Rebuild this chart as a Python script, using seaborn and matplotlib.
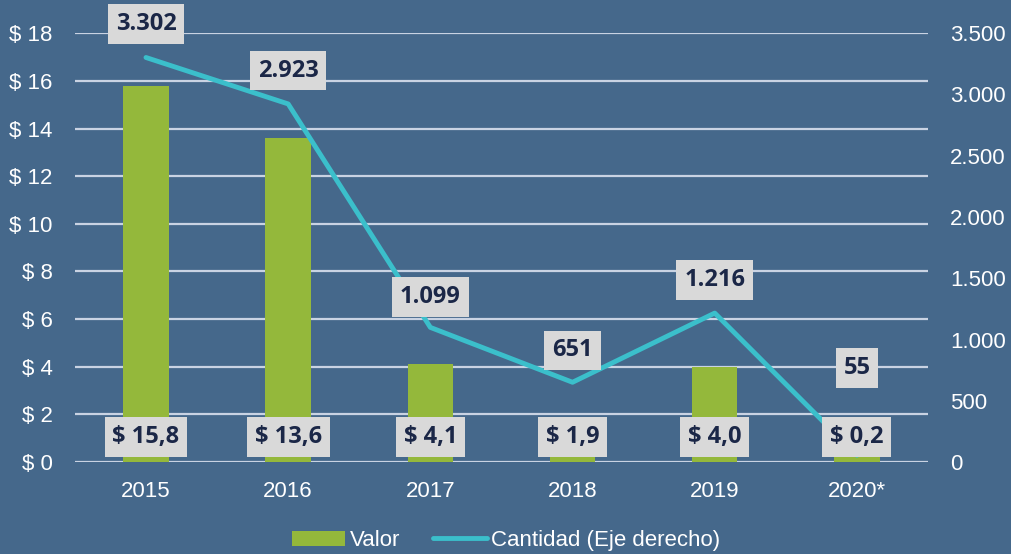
import matplotlib
matplotlib.use("Agg")
import matplotlib.pyplot as plt
import seaborn as sns
import pandas as pd
from matplotlib.patches import Patch
from matplotlib.lines import Line2D

years = ["2015", "2016", "2017", "2018", "2019", "2020*"]
valor = [15.8, 13.6, 4.1, 1.9, 4.0, 0.2]
cantidad = [3302, 2923, 1099, 651, 1216, 55]
valor_labels = ["$ 15,8", "$ 13,6", "$ 4,1", "$ 1,9", "$ 4,0", "$ 0,2"]
cantidad_labels = ["3.302", "2.923", "1.099", "651", "1.216", "55"]
left_ticks = [0, 2, 4, 6, 8, 10, 12, 14, 16, 18]
left_ticklabels = ["$ 0", "$ 2", "$ 4", "$ 6", "$ 8", "$ 10", "$ 12", "$ 14", "$ 16", "$ 18"]
right_ticks = [0, 500, 1000, 1500, 2000, 2500, 3000, 3500]
right_ticklabels = ["0", "500", "1.000", "1.500", "2.000", "2.500", "3.000", "3.500"]

BG = "#45688B"
GREEN = "#94B83B"
TEAL = "#3BBFCB"
BOX = "#D9D9D9"
NAVY = "#1B2747"
GRID = "#C9D3E3"

sns.set_style("white")
plt.rcParams["font.family"] = ["Liberation Sans", "DejaVu Sans"]

df = pd.DataFrame({"year": years, "valor": valor, "cantidad": cantidad})

fig = plt.figure(figsize=(10.12, 5.54), dpi=100, facecolor=BG)
ax = fig.add_axes([0.074, 0.166, 0.843, 0.774])
ax.set_facecolor(BG)

sns.barplot(data=df, x="year", y="valor", color=GREEN, width=0.32,
            saturation=1, linewidth=0, edgecolor="none", ax=ax, zorder=3)
ax.set_xlim(-0.5, 5.5)
ax.set_ylim(0, 18)
ax.set_yticks(left_ticks)
ax.set_yticklabels(left_ticklabels)
ax.yaxis.grid(True, color=GRID, linewidth=1.6, zorder=0)
ax.set_axisbelow(True)
for s in ax.spines.values():
    s.set_visible(False)
ax.tick_params(axis="both", length=0, colors="white", labelsize=16)
ax.tick_params(axis="y", pad=16)
ax.tick_params(axis="x", pad=14)
ax.set_xlabel("")
ax.set_ylabel("")

ax2 = ax.twinx()
sns.lineplot(x=list(range(len(years))), y=cantidad, color=TEAL, linewidth=3.5,
             ax=ax2, zorder=4)
ax2.set_ylim(0, 3500)
ax2.set_yticks(right_ticks)
ax2.set_yticklabels(right_ticklabels)
for s in ax2.spines.values():
    s.set_visible(False)
ax2.tick_params(axis="y", length=0, colors="white", labelsize=16, pad=16)
ax2.set_ylabel("")

label_font = dict(fontsize=17, fontweight="bold", color=NAVY, family=["Open Sans", "DejaVu Sans"])
box = dict(boxstyle="square,pad=0.33", facecolor=BOX, edgecolor="none")

for i, lab in enumerate(valor_labels):
    ax2.text(i, 1.05, lab, ha="center", va="center", zorder=6, bbox=box,
             transform=ax.transData, **label_font)

offsets = [24, 24, 22, 23, 24, 63]
for i, (v, lab) in enumerate(zip(cantidad, cantidad_labels)):
    ax2.annotate(lab, (i, v), xytext=(0, offsets[i]), textcoords="offset points",
                 ha="center", va="center", zorder=6, bbox=box,
                 annotation_clip=False, **label_font)

handles = [Patch(facecolor=GREEN, edgecolor="none", label="Valor"),
           Line2D([0], [0], color=TEAL, linewidth=3.5, solid_capstyle="round",
                  label="Cantidad (Eje derecho)")]
fig.legend(handles=handles, loc="lower center", bbox_to_anchor=(0.5, -0.031), ncol=2,
           frameon=False, fontsize=16, labelcolor="white", handlelength=2.4,
           handletextpad=0.2, columnspacing=1.5)

fig.savefig("out.png", dpi=100, facecolor=BG)
